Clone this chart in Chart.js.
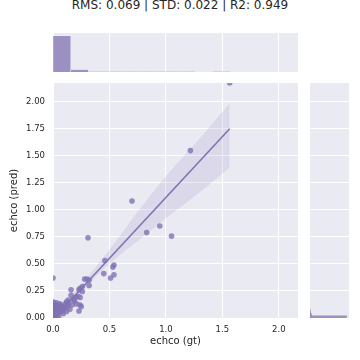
<!DOCTYPE html>
<html>
<head>
<meta charset="utf-8">
<script src="https://cdn.jsdelivr.net/npm/chart.js@4.4.1/dist/chart.umd.min.js"></script>
<style>
  body { margin: 0; background: #fff; width: 360px; height: 360px; position: relative; overflow: hidden; font-family: "DejaVu Sans", sans-serif; }
  canvas { position: absolute; }
  #title { position: absolute; left: 0; top: -2px; width: 360px; text-align: center; font-size: 12px; color: #262626; }
</style>
</head>
<body>
<div id="title">RMS: 0.069 | STD: 0.022 | R2: 0.949</div>
<canvas id="main" width="360" height="360" style="left:0;top:0"></canvas>
<canvas id="top" width="245" height="39" style="left:53px;top:33px"></canvas>
<canvas id="side" width="39" height="235" style="left:310px;top:83px"></canvas>
<script>
// scatter: ground truth vs prediction
const gt = [0.00, 0.00, 0.00, 0.00, 0.00, 0.00, 0.00, 0.00,
  0.01, 0.01, 0.01, 0.02, 0.02, 0.02, 0.02,
  0.03, 0.03, 0.03, 0.03, 0.04, 0.04, 0.04,
  0.05, 0.05, 0.05, 0.06, 0.06, 0.06, 0.07, 0.07,
  0.08, 0.08, 0.09, 0.09, 0.10, 0.11, 0.11, 0.12, 0.12, 0.13, 0.135, 0.14, 0.15,
  0.16, 0.16, 0.17, 0.18, 0.19, 0.20, 0.21, 0.22, 0.23, 0.23, 0.24, 0.24, 0.24, 0.25, 0.26, 0.26,
  0.28, 0.30, 0.32, 0.31, 0.32,
  0.45, 0.46, 0.51, 0.53, 0.54, 0.54, 0.70, 0.83, 0.946, 1.05, 1.217, 1.565];
const pred = [0.37, 0.15, 0.12, 0.10, 0.08, 0.05, 0.03, 0.01,
  0.13, 0.06, 0.02, 0.11, 0.08, 0.04, 0.00,
  0.14, 0.09, 0.05, 0.02, 0.12, 0.07, 0.03,
  0.10, 0.06, 0.01, 0.13, 0.08, 0.10, 0.055, 0.12,
  0.07, 0.10, 0.04, 0.09, 0.08, 0.13, 0.10, 0.15, 0.06, 0.11, 0.165, 0.13, 0.08,
  0.26, 0.21, 0.12, 0.17, 0.155, 0.19, 0.13, 0.20, 0.065, 0.26, 0.12, 0.19, 0.275, 0.105, 0.245, 0.29,
  0.36, 0.36, 0.30, 0.74, 0.35,
  0.41, 0.53, 0.37, 0.47, 0.49, 0.40, 1.08, 0.79, 0.85, 0.756, 1.546, 2.17];

// regression line and its confidence band
const regX = [0, 1.565];
const regY = [-0.01, 1.747];
const ciX = [0, 0.25, 0.5, 0.75, 1.0, 1.25, 1.565];
const ciHigh = [0.02, 0.31, 0.63, 0.98, 1.31, 1.60, 1.98];
const ciLow = [-0.04, 0.24, 0.50, 0.71, 0.92, 1.12, 1.39];

// marginal histograms
const gtBins = [0.0785, 0.2355, 0.3925, 0.5495, 0.7065, 0.8635, 1.0205, 1.1775, 1.3345, 1.4915];
const gtCounts = [250, 16, 2, 2, 1, 1, 2, 1, 0, 1];
const predBins = [0.01, 0.03, 0.05, 0.07];
const predCounts = [232, 9, 4, 1];

const xTicks = [0, 0.5, 1.0, 1.5, 2.0];
const yTicks = [0, 0.25, 0.5, 0.75, 1.0, 1.25, 1.5, 1.75, 2.0];

const purple = "#8172b3";
const ink = "#262626";

const bg = {
  id: "bg",
  beforeDraw(c) {
    const a = c.chartArea, ctx = c.ctx;
    ctx.save();
    ctx.fillStyle = "#eaeaf2";
    ctx.fillRect(a.left, a.top, a.right - a.left, a.bottom - a.top);
    ctx.restore();
  }
};

const setTicks = list => s => { s.ticks = list.map(v => ({ value: v })); };
const noPlugins = { legend: { display: false }, tooltip: { enabled: false } };

new Chart(document.getElementById("main"), {
  type: "scatter",
  data: {
    datasets: [
      { type: "line", data: regX.map((x, i) => ({ x, y: regY[i] })), borderColor: purple, borderWidth: 1.6, pointRadius: 0, fill: false },
      { type: "scatter", data: gt.map((x, i) => ({ x, y: pred[i] })), backgroundColor: "rgba(129,114,179,0.8)", borderWidth: 0, pointRadius: 2.8 },
      { type: "line", data: ciX.map((x, i) => ({ x, y: ciHigh[i] })), borderWidth: 0, pointRadius: 0, fill: "+1", backgroundColor: "rgba(129,114,179,0.15)", cubicInterpolationMode: "monotone" },
      { type: "line", data: ciX.map((x, i) => ({ x, y: ciLow[i] })), borderWidth: 0, pointRadius: 0, fill: false, cubicInterpolationMode: "monotone" }
    ]
  },
  options: {
    responsive: false,
    animation: false,
    layout: { padding: { top: 83, right: 62, left: 0, bottom: 0 } },
    plugins: noPlugins,
    scales: {
      x: {
        type: "linear", min: 0, max: 2.17,
        afterBuildTicks: setTicks(xTicks),
        afterFit: s => { s.height = 42; },
        grid: { color: "#fff", lineWidth: 1, drawTicks: false },
        border: { display: false },
        ticks: { padding: 7, color: ink, font: { size: 8.5, family: "DejaVu Sans" }, callback: v => v.toFixed(1) },
        title: { display: true, text: "echco (gt)", color: ink, font: { size: 10, family: "DejaVu Sans" }, padding: { top: 0, bottom: 12.5 } }
      },
      y: {
        type: "linear", min: 0, max: 2.17,
        afterBuildTicks: setTicks(yTicks),
        afterFit: s => { s.width = 53; },
        grid: { color: "#fff", lineWidth: 1, drawTicks: false },
        border: { display: false },
        ticks: { padding: 8, color: ink, font: { size: 8.5, family: "DejaVu Sans" }, callback: v => v.toFixed(2) },
        title: { display: true, text: "echco (pred)", color: ink, font: { size: 10, family: "DejaVu Sans" }, padding: { top: 8, bottom: 0 } }
      }
    }
  },
  plugins: [bg]
});

new Chart(document.getElementById("top"), {
  type: "bar",
  data: {
    datasets: [{
      data: gtBins.map((x, i) => ({ x, y: gtCounts[i] })),
      backgroundColor: "rgba(129,114,179,0.75)",
      borderColor: "rgba(255,255,255,0.5)",
      borderWidth: 0.5,
      categoryPercentage: 1,
      barPercentage: 1
    }]
  },
  options: {
    responsive: false,
    animation: false,
    layout: { padding: 0 },
    plugins: noPlugins,
    scales: {
      x: {
        type: "linear", min: 0, max: 2.17, offset: false,
        afterBuildTicks: setTicks(xTicks),
        afterFit: s => { s.height = 0; },
        grid: { color: "#fff", drawTicks: false, offset: false },
        border: { display: false },
        ticks: { display: false }
      },
      y: {
        min: 0, max: Math.max(...gtCounts) * 1.08,
        afterFit: s => { s.width = 0; },
        grid: { display: false },
        border: { display: false },
        ticks: { display: false }
      }
    }
  },
  plugins: [bg]
});

new Chart(document.getElementById("side"), {
  type: "bar",
  data: {
    datasets: [{
      data: predBins.map((y, i) => ({ x: predCounts[i], y })),
      backgroundColor: "rgba(129,114,179,0.75)",
      borderWidth: 0,
      categoryPercentage: 1,
      barPercentage: 1
    }]
  },
  options: {
    indexAxis: "y",
    responsive: false,
    animation: false,
    layout: { padding: 0 },
    plugins: noPlugins,
    scales: {
      y: {
        type: "linear", min: 0, max: 2.17, offset: false,
        afterBuildTicks: setTicks(yTicks),
        afterFit: s => { s.width = 0; },
        grid: { color: "#fff", drawTicks: false, offset: false },
        border: { display: false },
        ticks: { display: false }
      },
      x: {
        type: "linear", min: 0, max: Math.max(...predCounts) * 1.07,
        afterFit: s => { s.height = 0; },
        grid: { display: false },
        border: { display: false },
        ticks: { display: false }
      }
    }
  },
  plugins: [bg]
});
</script>
</body>
</html>
